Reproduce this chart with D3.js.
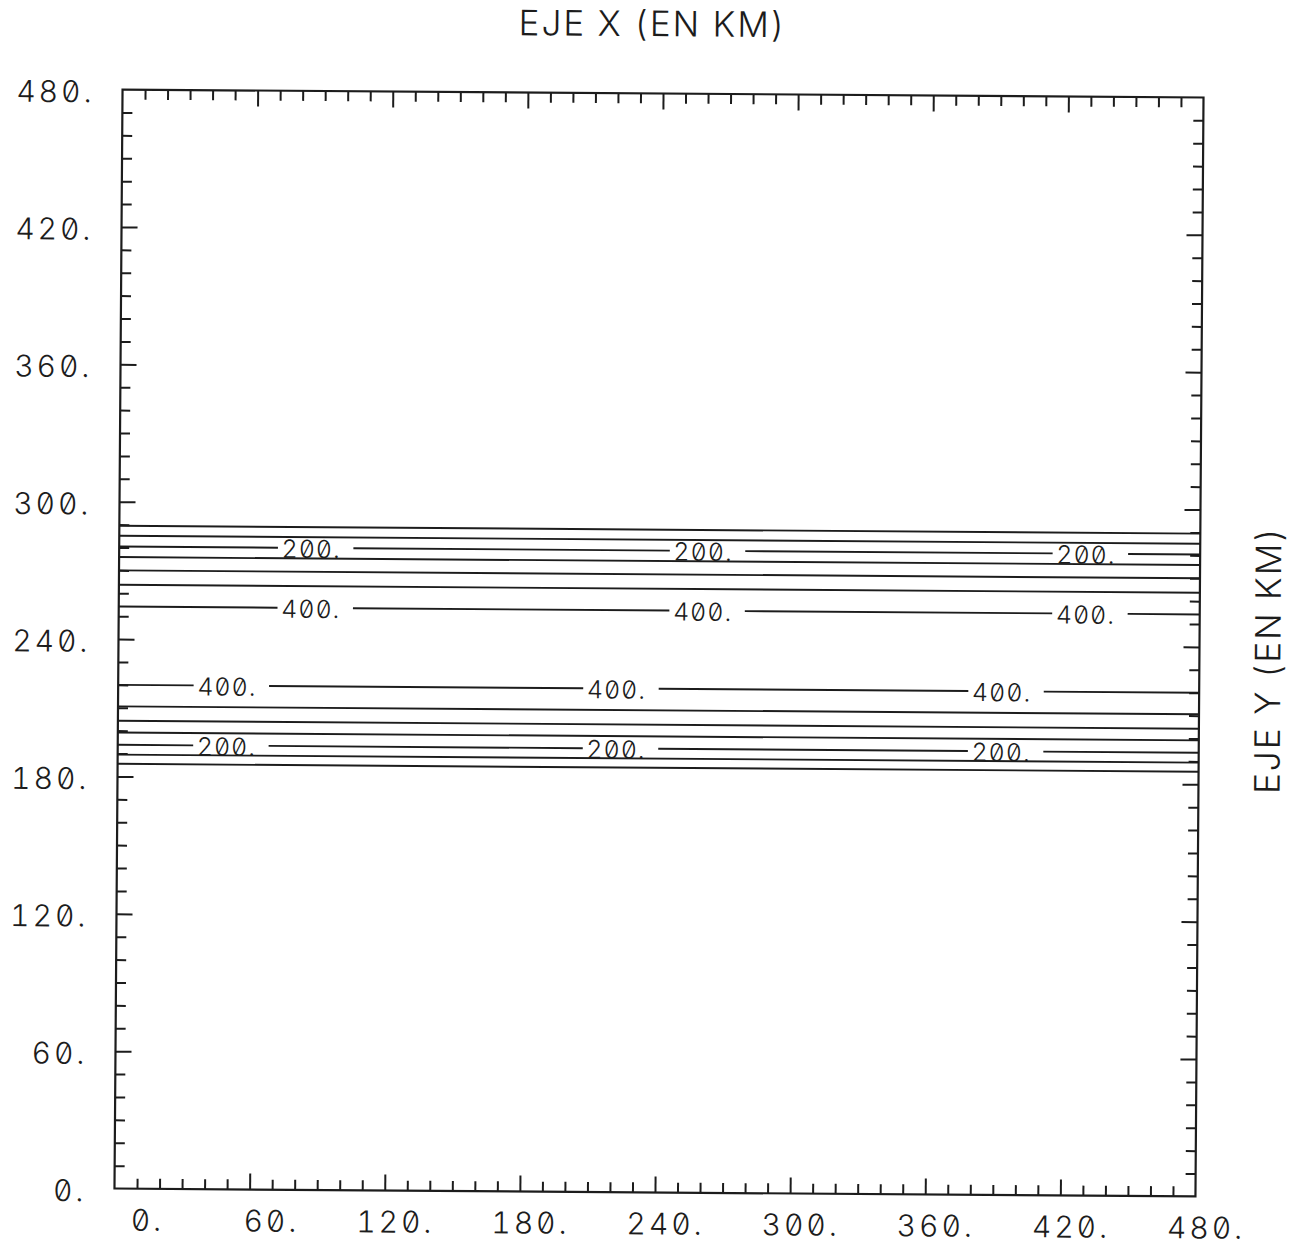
<!DOCTYPE html>
<html>
<head>
<meta charset="utf-8">
<script src="https://cdn.jsdelivr.net/npm/d3@7"></script>
<style>
  body { margin: 0; background: #fff; }
  text {
    font-family: Inter, "DejaVu Sans Mono", monospace;
    font-weight: 300;
    font-feature-settings: "zero" 1, "tnum" 1;
    fill: #1c1c1c;
  }
</style>
</head>
<body>
<div id="chart"></div>
<script>
// Contour plot, EJE X / EJE Y in km

// Axis values
const xMajorTicks = [0, 60, 120, 180, 240, 300, 360, 420, 480];
const yMajorTicks = [0, 60, 120, 180, 240, 300, 360, 420, 480];
const minorStep = 10;

// Contour levels and where each one crosses (y in km), upper and lower band
const contourLevels = [100, 150, 200, 250, 300, 350, 400];
const upperYkm = [289.5, 285.1, 280.4, 275.8, 270.0, 263.7, 254.2];
const lowerYkm = [185.5, 189.5, 193.8, 199.2, 204.3, 210.6, 220.0];

// Labeled levels and label x positions (km)
const labeledLevels = [200, 400];
const upperLabelXkm = [73, 247, 417];
const lowerLabelXkm = [36, 209, 380];

const margin = {top: 93.5, left: 118.5};
const w = 1081;
const h = 1099;
const skew = 0.42; // scan is slightly rotated

const svg = d3.select("#chart")
  .append("svg")
  .attr("width", 1295)
  .attr("height", 1247);

const g = svg.append("g")
  .attr("transform", "rotate(" + skew + ",659,643)")
  .append("g")
  .attr("transform", "translate(" + margin.left + "," + margin.top + ")");

const xScale = d3.scaleLinear().domain([0, 480]).range([0, w]);
const yScale = d3.scaleLinear().domain([0, 480]).range([h, 0]);

const minorTicks = d3.range(minorStep, 480, minorStep)
  .filter((v) => xMajorTicks.indexOf(v) < 0);
const majorInner = xMajorTicks.filter((v) => v > 0 && v < 480);

/**
 * Draw inward ticks on one side of the frame.
 * @param {*} axisFn d3 axis generator
 * @param {*} scale scale
 * @param {*} translate transform string
 */
function drawTicks(axisFn, scale, translate) {
  [[minorTicks, 10], [majorInner, 16]].forEach(function(t) {
    g.append("g")
      .attr("transform", translate)
      .call(axisFn(scale).tickValues(t[0]).tickSize(t[1]).tickSizeOuter(0).tickFormat(""))
      .call((a) => a.select(".domain").remove())
      .selectAll("line")
      .attr("stroke", "#1c1c1c")
      .attr("stroke-width", 2);
  });
}

drawTicks(d3.axisTop, xScale, "translate(0," + h + ")");
drawTicks(d3.axisBottom, xScale, "translate(0,0)");
drawTicks(d3.axisRight, yScale, "translate(0,0)");
drawTicks(d3.axisLeft, yScale, "translate(" + w + ",0)");

// Frame
g.append("rect")
  .attr("x", 0)
  .attr("y", 0)
  .attr("width", w)
  .attr("height", h)
  .attr("fill", "none")
  .attr("stroke", "#1c1c1c")
  .attr("stroke-width", 2.2);

// Tick labels
g.selectAll(".xlab")
  .data(xMajorTicks)
  .enter()
  .append("text")
  .attr("class", "xlab")
  .attr("x", (d) => xScale(d) + 50)
  .attr("y", h + 42)
  .attr("text-anchor", "end")
  .style("font-size", "30px")
  .style("letter-spacing", "3px")
  .text((d) => d + ".");

g.selectAll(".ylab")
  .data(yMajorTicks)
  .enter()
  .append("text")
  .attr("class", "ylab")
  .attr("x", -28)
  .attr("y", (d) => yScale(d) + 13)
  .attr("text-anchor", "end")
  .style("font-size", "30px")
  .style("letter-spacing", "3px")
  .text((d) => d + ".");

// Titles
g.append("text")
  .attr("x", 529.5)
  .attr("y", -57.3)
  .attr("text-anchor", "middle")
  .style("font-size", "35px")
  .style("letter-spacing", "2px")
  .text("EJE X (EN KM)");

g.append("text")
  .attr("transform", "translate(1162,562) rotate(-90)")
  .attr("text-anchor", "middle")
  .style("font-size", "35px")
  .style("letter-spacing", "2px")
  .text("EJE Y (EN KM)");

// Contour lines
const line = d3.line()
  .x((d) => xScale(d[0]))
  .y((d) => yScale(d[1]));

const gapBefore = 2.5;
const gapAfter = 31;

/**
 * Split a horizontal contour into pieces around its labels.
 * @param {*} ykm y position in km
 * @param {*} labelXs label positions in km, or empty
 * @return {*} list of segments
 */
function segments(ykm, labelXs) {
  const segs = [];
  let start = 0;
  labelXs.forEach(function(lx) {
    segs.push([[start, ykm], [lx - gapBefore, ykm]]);
    start = lx + gapAfter;
  });
  segs.push([[start, ykm], [480, ykm]]);
  return segs;
}

const contours = [];
const labels = [];
contourLevels.forEach(function(level, i) {
  const isLabeled = labeledLevels.indexOf(level) >= 0;
  [[upperYkm[i], upperLabelXkm], [lowerYkm[i], lowerLabelXkm]].forEach(function(c) {
    const lx = isLabeled ? c[1] : [];
    segments(c[0], lx).forEach((s) => contours.push(s));
    lx.forEach((x) => labels.push({x: x, y: c[0], level: level}));
  });
});

g.selectAll(".contour")
  .data(contours)
  .enter()
  .append("path")
  .attr("class", "contour")
  .attr("d", line)
  .attr("fill", "none")
  .attr("stroke", "#1c1c1c")
  .attr("stroke-width", 1.9);

g.selectAll(".clab")
  .data(labels)
  .enter()
  .append("text")
  .attr("class", "clab")
  .attr("x", (d) => xScale(d.x) - 2)
  .attr("y", (d) => yScale(d.y) + 10)
  .style("font-size", "25px")
  .style("letter-spacing", "1px")
  .text((d) => d.level + ".");
</script>
</body>
</html>
